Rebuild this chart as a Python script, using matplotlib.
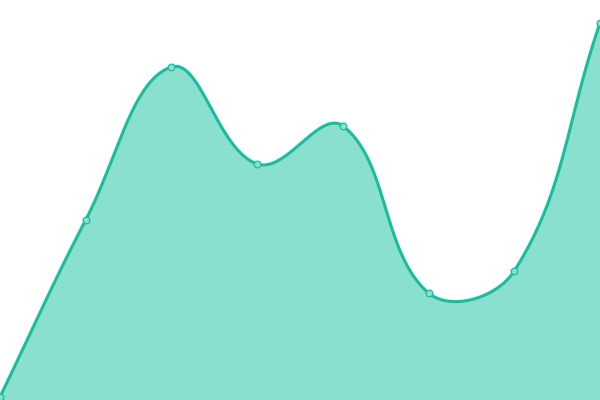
import numpy as np
import matplotlib
matplotlib.use("Agg")
import matplotlib.pyplot as plt

# Data (pixel heights above the bottom edge)
labels = ["1", "2", "3", "4", "5", "6", "7", "8"]
values = [3, 180, 333, 236, 274, 107, 129, 377]

line_color = "#1abc9c"
fill_color = "#8ae0cf"

fig = plt.figure(figsize=(6, 4), dpi=100)
ax = fig.add_axes([0, 0, 1, 1])
ax.set_xlim(0, len(values) - 1)
ax.set_ylim(0, 400)
ax.axis("off")

# smooth curve like a tension-0.4 bezier spline, computed in pixel space
x = np.arange(len(values))
pts = ax.transData.transform(np.column_stack([x, values]))
t = 0.4
n = len(pts)
ctrl_prev = pts.copy()
ctrl_next = pts.copy()
for i in range(n):
    p0 = pts[max(i - 1, 0)]
    p1 = pts[i]
    p2 = pts[min(i + 1, n - 1)]
    d01 = np.hypot(*(p1 - p0))
    d12 = np.hypot(*(p2 - p1))
    s01 = d01 / (d01 + d12) if d01 + d12 else 0
    s12 = d12 / (d01 + d12) if d01 + d12 else 0
    ctrl_prev[i] = p1 - t * s01 * (p2 - p0)
    ctrl_next[i] = p1 + t * s12 * (p2 - p0)

curve = []
u = np.linspace(0, 1, 60)[:, None]
for i in range(n - 1):
    a, b, c, d = pts[i], ctrl_next[i], ctrl_prev[i + 1], pts[i + 1]
    seg = (1 - u) ** 3 * a + 3 * (1 - u) ** 2 * u * b + 3 * (1 - u) * u ** 2 * c + u ** 3 * d
    curve.append(seg if i == 0 else seg[1:])
curve = np.vstack(curve)
curve = ax.transData.inverted().transform(curve)

ax.fill_between(curve[:, 0], curve[:, 1], 0, color=fill_color, lw=0)
ax.plot(curve[:, 0], curve[:, 1], color=line_color, lw=2.2, solid_capstyle="round", clip_on=False)
ax.plot(x, values, "o", ms=4.8, mfc=fill_color, mec=line_color, mew=0.9, clip_on=False)

fig.savefig("out.png", dpi=100)
